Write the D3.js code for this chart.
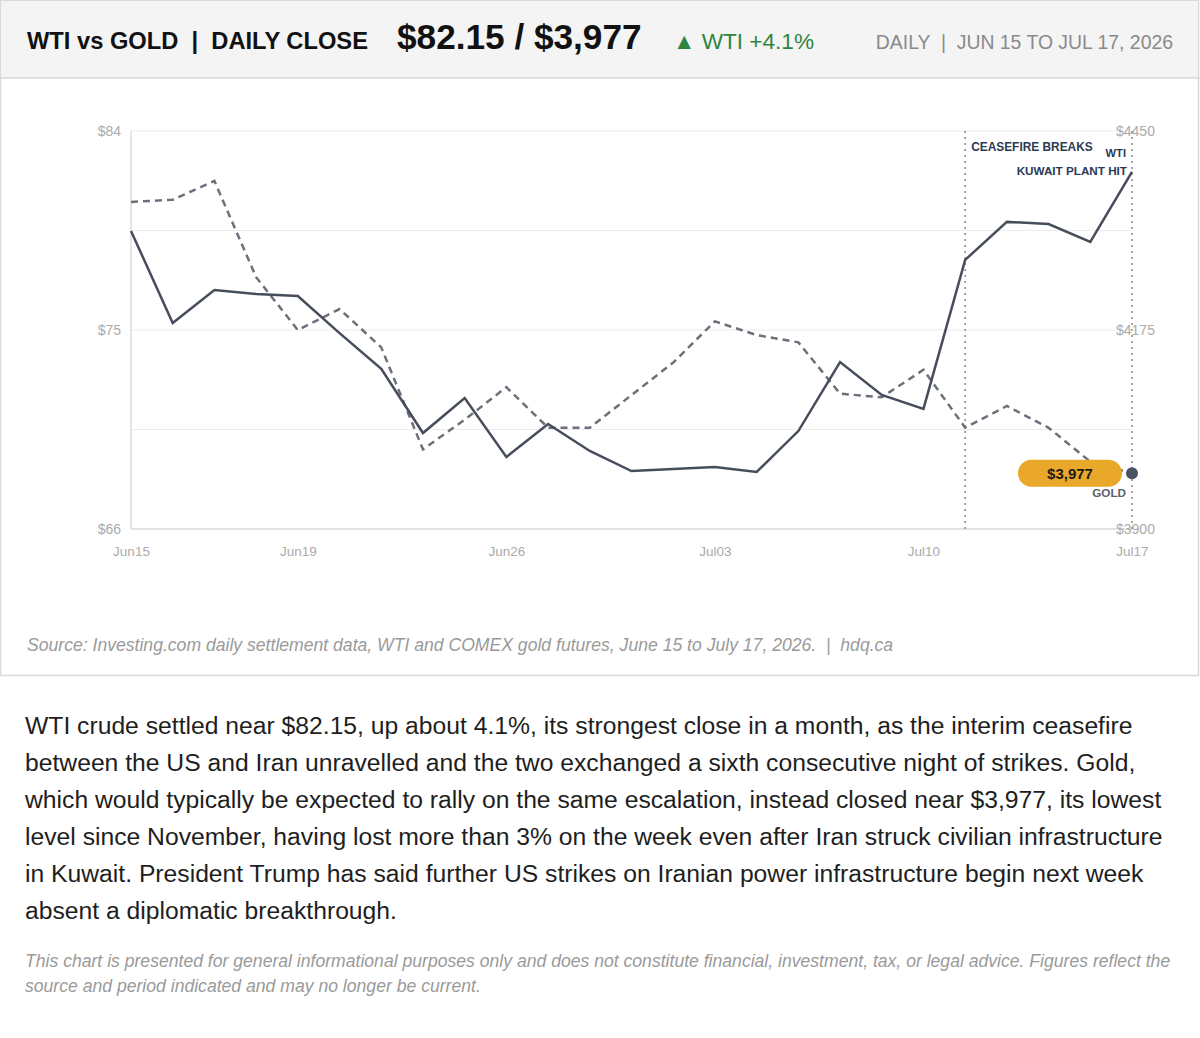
<!DOCTYPE html>
<html>
<head>
<meta charset="utf-8">
<script src="https://cdn.jsdelivr.net/npm/d3@7"></script>
<style>
  html, body { margin: 0; padding: 0; background: #ffffff; }
  body { width: 1200px; height: 1038px; position: relative; font-family: "Liberation Sans", Arial, Helvetica, sans-serif; }
  #chart { position: absolute; left: 0; top: 0; }
  #para { position: absolute; left: 25px; top: 707px; width: 1170px; font-size: 24.7px; line-height: 37px; color: #1e1e1e; }
  #para span, #disc span { display: block; white-space: nowrap; }
  #disc { position: absolute; left: 25px; top: 949px; width: 1170px; font-size: 17.6px; line-height: 25px; color: #9a9a9a; font-style: italic; }
</style>
</head>
<body>
<svg id="chart" width="1200" height="677"></svg>
<div id="para"></div>
<div id="disc"></div>
<script>
// ---------- data ----------
const dates = ["Jun15","Jun16","Jun17","Jun18","Jun19","Jun22","Jun23","Jun24","Jun25","Jun26",
               "Jun29","Jun30","Jul01","Jul02","Jul03","Jul06","Jul07","Jul08","Jul09","Jul10",
               "Jul13","Jul14","Jul15","Jul16","Jul17"];
const wti  = [79.48,75.32,76.81,76.63,76.54,74.86,73.24,70.34,71.92,69.26,
              70.75,69.53,68.62,68.71,68.80,68.58,70.43,73.55,72.06,71.43,
              78.17,79.89,79.79,78.98,82.15];
const gold = [4352,4355,4381,4248,4175,4204,4151,4010,4051,4096,
              4040,4040,4085,4130,4187,4168,4158,4087,4082,4120,
              4040,4070,4040,3993,3977];
const xTickLabels = ["Jun15","Jun19","Jun26","Jul03","Jul10","Jul17"];
const wtiTicks  = [66, 75, 84];
const goldTicks = [3900, 4175, 4450];
const gridWti   = [66, 70.5, 75, 79.5, 84];
const events = [
  {date: "Jul13", label: "CEASEFIRE BREAKS"},
  {date: "Jul17", label: "KUWAIT PLANT HIT"}
];
const paragraph = [
  "WTI crude settled near $82.15, up about 4.1%, its strongest close in a month, as the interim ceasefire",
  "between the US and Iran unravelled and the two exchanged a sixth consecutive night of strikes. Gold,",
  "which would typically be expected to rally on the same escalation, instead closed near $3,977, its lowest",
  "level since November, having lost more than 3% on the week even after Iran struck civilian infrastructure",
  "in Kuwait. President Trump has said further US strikes on Iranian power infrastructure begin next week",
  "absent a diplomatic breakthrough."
];
const disclaimer = [
  "This chart is presented for general informational purposes only and does not constitute financial, investment, tax, or legal advice. Figures reflect the",
  "source and period indicated and may no longer be current."
];

// ---------- layout ----------
const svg = d3.select("#chart");
const FONT = '"Liberation Sans", Arial, Helvetica, sans-serif';

// outer frame
svg.append("rect").attr("x", 0.5).attr("y", 0.5).attr("width", 1198).attr("height", 675)
  .attr("fill", "#ffffff").attr("stroke", "#d9d9d9").attr("stroke-width", 1.5);
// header band
svg.append("rect").attr("x", 1).attr("y", 1).attr("width", 1197).attr("height", 77)
  .attr("fill", "#f4f4f4");
svg.append("line").attr("x1", 0).attr("x2", 1200).attr("y1", 78).attr("y2", 78)
  .attr("stroke", "#d9d9d9").attr("stroke-width", 1.5);

const hdr = svg.append("g").style("font-family", FONT);
hdr.append("text").attr("x", 27).attr("y", 49).attr("font-size", 23.7).attr("font-weight", "bold")
  .attr("fill", "#111").attr("xml:space", "preserve").text("WTI vs GOLD  |  DAILY CLOSE");
hdr.append("text").attr("x", 397).attr("y", 49).attr("font-size", 35.2).attr("font-weight", "bold")
  .attr("fill", "#111").text("$82.15 / $3,977");
hdr.append("text").attr("x", 673).attr("y", 49).attr("font-size", 22.6)
  .attr("fill", "#2e8540").text("▲ WTI +4.1%");
hdr.append("text").attr("x", 1173).attr("y", 49).attr("font-size", 19.4).attr("text-anchor", "end")
  .attr("fill", "#8a8a8a").attr("xml:space", "preserve").text("DAILY  |  JUN 15 TO JUL 17, 2026");

// scales
const x = d3.scalePoint().domain(dates).range([131, 1132]);
const yL = d3.scaleLinear().domain([66, 84]).range([529, 131]);
const yR = d3.scaleLinear().domain([3900, 4450]).range([529, 131]);

const g = svg.append("g").style("font-family", FONT);

// gridlines
g.selectAll(".grid").data(gridWti).join("line")
  .attr("x1", 131).attr("x2", 1132)
  .attr("y1", d => yL(d)).attr("y2", d => yL(d))
  .attr("stroke", "#ececec").attr("stroke-width", 1);

// axis lines
g.append("line").attr("x1", 131).attr("x2", 131).attr("y1", 131).attr("y2", 529)
  .attr("stroke", "#dcdcdc").attr("stroke-width", 1.5);
g.append("line").attr("x1", 131).attr("x2", 1132).attr("y1", 529).attr("y2", 529)
  .attr("stroke", "#dcdcdc").attr("stroke-width", 1.5);

// left axis labels
const axL = g.append("g").attr("transform", "translate(121,0)")
  .call(d3.axisLeft(yL).tickValues(wtiTicks).tickSize(0).tickPadding(0).tickFormat(d => "$" + d));
axL.select(".domain").remove();
axL.selectAll("text").attr("font-size", 14).attr("fill", "#aaaaaa").style("font-family", FONT);

// right axis labels
const axR = g.append("g").attr("transform", "translate(1116,0)")
  .call(d3.axisRight(yR).tickValues(goldTicks).tickSize(0).tickPadding(0).tickFormat(d => "$" + d));
axR.select(".domain").remove();
axR.selectAll("text").attr("font-size", 14).attr("fill", "#aaaaaa").style("font-family", FONT);

// x axis labels
const axX = g.append("g").attr("transform", "translate(0,546)")
  .call(d3.axisBottom(x).tickValues(xTickLabels).tickSize(0).tickPadding(0));
axX.select(".domain").remove();
axX.selectAll("text").attr("font-size", 13.5).attr("fill", "#aaaaaa").style("font-family", FONT);

// event lines
g.selectAll(".evt").data(events).join("line")
  .attr("x1", d => x(d.date)).attr("x2", d => x(d.date))
  .attr("y1", 131).attr("y2", 529)
  .attr("stroke", "#8a8a8a").attr("stroke-width", 1.5).attr("stroke-dasharray", "2,4");

// series lines
const lineGold = d3.line().x((d, i) => x(dates[i])).y(d => yR(d));
const lineWti = d3.line().x((d, i) => x(dates[i])).y(d => yL(d));

g.append("path").datum(gold).attr("d", lineGold)
  .attr("fill", "none").attr("stroke", "#6d707b").attr("stroke-width", 2.5)
  .attr("stroke-dasharray", "7,5");
g.append("path").datum(wti).attr("d", lineWti)
  .attr("fill", "none").attr("stroke", "#464d5b").attr("stroke-width", 2.5)
  .attr("stroke-linejoin", "miter");

// event labels
g.append("text").attr("x", x(events[0].date) + 6).attr("y", 151)
  .attr("font-size", 11.9).attr("font-weight", "bold").attr("fill", "#2b3a55").text(events[0].label);
g.append("text").attr("x", x(events[1].date) - 5).attr("y", 175).attr("text-anchor", "end")
  .attr("font-size", 11.7).attr("font-weight", "bold").attr("fill", "#2b3a55").text(events[1].label);

// series end labels
const lastW = wti[wti.length - 1], lastG = gold[gold.length - 1], lastD = dates[dates.length - 1];
g.append("text").attr("x", x(lastD) - 6).attr("y", yL(lastW) - 15).attr("text-anchor", "end")
  .attr("font-size", 11.2).attr("font-weight", "bold").attr("fill", "#2b3a55").text("WTI");

// gold badge
const bx = x(lastD) - 114, by = yR(lastG) - 13.5;
g.append("rect").attr("x", bx).attr("y", by).attr("width", 104).attr("height", 27).attr("rx", 13.5)
  .attr("fill", "#e9a82a");
g.append("text").attr("x", bx + 52).attr("y", yR(lastG) + 6).attr("text-anchor", "middle")
  .attr("font-size", 15).attr("font-weight", "bold").attr("fill", "#1a1a1a")
  .text("$" + d3.format(",")(lastG));
g.append("circle").attr("cx", x(lastD)).attr("cy", yR(lastG)).attr("r", 6).attr("fill", "#4a5263");
g.append("text").attr("x", x(lastD) - 6).attr("y", yR(lastG) + 24).attr("text-anchor", "end")
  .attr("font-size", 11.7).attr("font-weight", "bold").attr("fill", "#5a5f6a").text("GOLD");

// source
g.append("text").attr("x", 27).attr("y", 651).attr("font-size", 17.6).attr("font-style", "italic")
  .attr("fill", "#9a9a9a").attr("xml:space", "preserve")
  .text("Source: Investing.com daily settlement data, WTI and COMEX gold futures, June 15 to July 17, 2026.  |  hdq.ca");

// paragraph + disclaimer
d3.select("#para").selectAll("span").data(paragraph).join("span").text(d => d);
d3.select("#disc").selectAll("span").data(disclaimer).join("span").text(d => d);
</script>
</body>
</html>
